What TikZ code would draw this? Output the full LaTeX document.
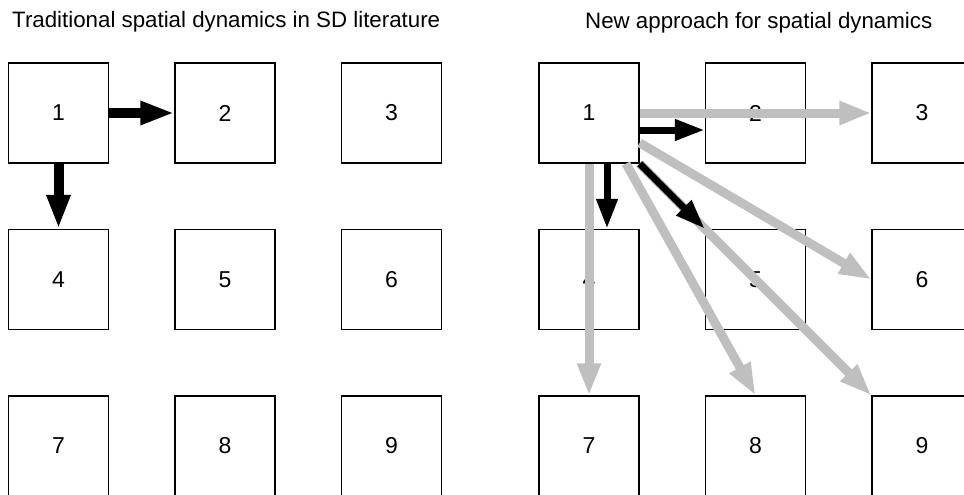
\documentclass[tikz,border=0pt]{standalone}
\usepackage{fontspec}
\setmainfont{Liberation Sans}
\usetikzlibrary{arrows.meta}
\definecolor{arrgray}{RGB}{191,191,191}
\tikzset{
  cell/.style={draw, line width=1.3pt, minimum size=100pt, inner sep=0pt,
    font=\fontsize{23pt}{26pt}\selectfont},
  heading/.style={anchor=base west, inner sep=0pt,
    font=\fontsize{22.3pt}{26pt}\selectfont},
  thickarr/.style={line width=10pt, -{Triangle[length=34pt,width=22pt]}},
  thinarr/.style={line width=7pt, -{Triangle[length=30pt,width=20pt]}},
  farr/.style={draw=arrgray, line width=9pt, -{Triangle[length=32pt,width=22pt]}}
}
\begin{document}
\begin{tikzpicture}[x=1pt,y=-1pt]
\useasboundingbox (0,0) rectangle (964,495);
\clip (0,0) rectangle (964,495);
\fill[white] (0,0) rectangle (964,495);

% headings
\node[heading] (tl) at (12,27.3) {Traditional spatial dynamics in SD literature};
\node[heading] (tr) at (585,28.3) {New approach for spatial dynamics};

% left grid
\foreach \n/\c/\r in {1/0/0,2/1/0,3/2/0,4/0/1,5/1/1,6/2/1,7/0/2,8/1/2,9/2/2}
  \node[cell] (l\n) at (58.5+166.5*\c, 113+166.5*\r) {\n};

% right grid
\foreach \n/\c/\r in {1/0/0,2/1/0,3/2/0,4/0/1,5/1/1,6/2/1,7/0/2,8/1/2,9/2/2}
  \node[cell] (r\n) at (589+166.5*\c, 113+166.5*\r) {\n};

% neighbour-only flows
\draw[thickarr] (l1.east) -- (l2.west);
\draw[thickarr] (l1.south) -- (l4.north);

% distant flows
\draw[farr] (r1.east) -- (r3.west);
\draw[farr] (r1.south) -- (r7.north);
\draw[farr] (r1) -- (r6.west);
\draw[farr] ([xshift=37pt]r1.south) -- (r8.north);
\draw[farr] (r1.south east) -- (r9.north west);

% neighbour flows
\draw[thinarr] ([yshift=-17pt]r1.east) -- ([yshift=-17pt]r2.west);
\draw[thinarr] ([xshift=18pt]r1.south) -- ([xshift=18pt]r4.north);
\draw[thinarr] (r1.south east) -- (r5.north west);
\end{tikzpicture}
\end{document}
